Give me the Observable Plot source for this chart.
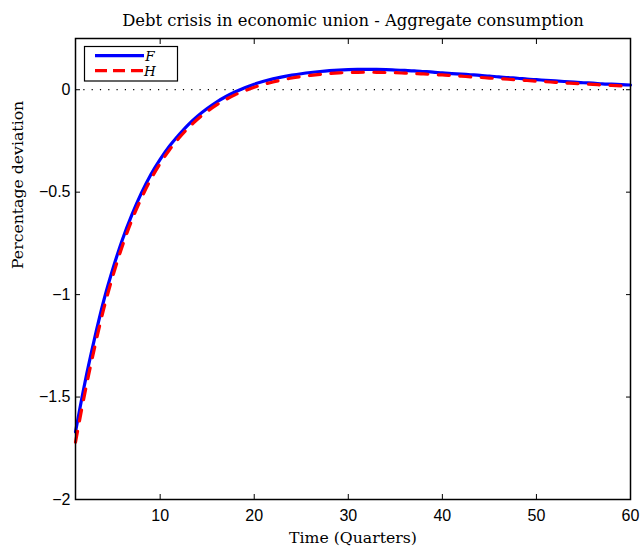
<!DOCTYPE html>
<html>
<head>
<meta charset="utf-8">
<script src="https://cdn.jsdelivr.net/npm/d3@7"></script>
<script src="https://cdn.jsdelivr.net/npm/@observablehq/plot@0.6"></script>
<style>
  html, body { margin: 0; padding: 0; background: #fff; }
  #chart { width: 641px; height: 553px; }
</style>
</head>
<body>
<div id="chart"></div>
<script>
const titleText = "Debt crisis in economic union - Aggregate consumption";
const xLabel = "Time (Quarters)";
const yLabel = "Percentage deviation";
const seriesNames = ["F", "H"];
const seriesColors = ["#0000ff", "#ff0000"];
const quarters = d3.range(1, 61);
const xTicks = [10, 20, 30, 40, 50, 60];
const yTicks = [-2, -1.5, -1, -0.5, 0];

const consumptionF = [
  -1.67, -1.43, -1.22, -1.03, -0.87, -0.73, -0.61, -0.505, -0.415, -0.34,
  -0.275, -0.22, -0.17, -0.128, -0.092, -0.060, -0.033, -0.010, 0.010, 0.027,
  0.041, 0.053, 0.063, 0.071, 0.078, 0.084, 0.089, 0.093, 0.096, 0.098,
  0.099, 0.0995, 0.099, 0.098, 0.096, 0.094, 0.092, 0.089, 0.086, 0.082,
  0.079, 0.076, 0.073, 0.070, 0.066, 0.063, 0.059, 0.056, 0.052, 0.049,
  0.046, 0.043, 0.040, 0.037, 0.034, 0.032, 0.029, 0.027, 0.025, 0.023
];
const consumptionH = [
  -1.72, -1.48, -1.265, -1.07, -0.905, -0.76, -0.636, -0.53, -0.438, -0.36,
  -0.293, -0.236, -0.186, -0.143, -0.106, -0.074, -0.047, -0.024, -0.005, 0.012,
  0.026, 0.038, 0.048, 0.057, 0.064, 0.070, 0.075, 0.079, 0.082, 0.084,
  0.085, 0.0855, 0.085, 0.084, 0.083, 0.081, 0.079, 0.077, 0.074, 0.072,
  0.069, 0.066, 0.063, 0.060, 0.057, 0.054, 0.051, 0.048, 0.045, 0.042,
  0.039, 0.036, 0.033, 0.031, 0.028, 0.026, 0.023, 0.021, 0.019, 0.017
];

const rowsF = quarters.map((t, i) => ({t, v: consumptionF[i]}));
const rowsH = quarters.map((t, i) => ({t, v: consumptionH[i]}));

const sans = "'Liberation Sans', Arial, Helvetica, sans-serif";
const serif = "'DejaVu Serif', 'Liberation Serif', serif";
const fmtY = d => d === 0 ? "0" : (d < 0 ? "\u2212" : "") + String(Math.abs(d));

const chart = Plot.plot({
  width: 641,
  height: 553,
  marginLeft: 75,
  marginRight: 11,
  marginTop: 38,
  marginBottom: 54,
  style: {background: "#fff", fontFamily: sans, fontSize: "16px", color: "#000"},
  x: {domain: [1, 60], label: null},
  y: {domain: [-2, 0.25], label: null},
  marks: [
    Plot.ruleY([0], {stroke: "#000", strokeWidth: 1.2, strokeDasharray: "1.2,7.1"}),
    Plot.line(rowsF, {x: "t", y: "v", stroke: seriesColors[0], strokeWidth: 3.2, curve: "monotone-x"}),
    Plot.line(rowsH, {x: "t", y: "v", stroke: seriesColors[1], strokeWidth: 3.2, strokeDasharray: "11,10.5", curve: "monotone-x"}),
    Plot.frame({stroke: "#000", strokeWidth: 1.5}),
    Plot.axisX(xTicks, {anchor: "bottom", tickSize: 0, tickPadding: 10, fontSize: 16, fontFamily: sans, label: null}),
    Plot.axisX(xTicks, {anchor: "bottom", tickSize: -5, tickFormat: () => "", label: null}),
    Plot.axisX(xTicks, {anchor: "top", tickSize: -5, tickFormat: () => "", label: null}),
    Plot.axisY(yTicks, {anchor: "left", tickSize: 0, tickPadding: 5, tickFormat: fmtY, fontSize: 16, fontFamily: sans, label: null}),
    Plot.axisY(yTicks, {anchor: "left", tickSize: -5, tickFormat: () => "", label: null}),
    Plot.axisY(yTicks, {anchor: "right", tickSize: -5, tickFormat: () => "", label: null}),
    Plot.text([titleText], {frameAnchor: "top", dy: -24, text: d => d, fontFamily: serif, fontSize: 16.4, fill: "#000"}),
    Plot.text([xLabel], {frameAnchor: "bottom", dy: 43, text: d => d, fontFamily: serif, fontSize: 15.7, fill: "#000"}),
    Plot.text([yLabel], {frameAnchor: "left", dx: -58, rotate: -90, text: d => d, fontFamily: serif, fontSize: 15.7, fill: "#000"})
  ]
});

document.getElementById("chart").appendChild(chart);

// Legend (decoration) drawn inside the SVG
const svg = d3.select(chart);
const lg = svg.append("g").attr("class", "legend");
lg.append("rect").attr("x", 84.5).attr("y", 46.5).attr("width", 93).attr("height", 34.5)
  .attr("fill", "#fff").attr("stroke", "#000").attr("stroke-width", 1.2);
seriesNames.forEach((name, i) => {
  const y = 55.7 + i * 15;
  lg.append("line").attr("x1", 95).attr("x2", 144).attr("y1", y).attr("y2", y)
    .attr("stroke", seriesColors[i]).attr("stroke-width", 3.2)
    .attr("stroke-dasharray", i === 1 ? "12,6" : null);
  lg.append("text").attr("x", 150).attr("y", y + 5).text(name)
    .attr("font-family", serif).attr("font-style", "italic").attr("font-size", 13.5).attr("fill", "#000");
});
</script>
</body>
</html>
